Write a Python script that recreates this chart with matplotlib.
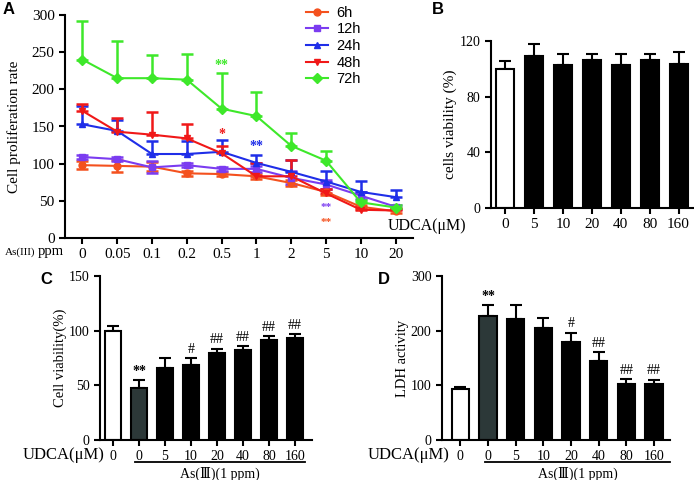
import numpy as np
import matplotlib
matplotlib.use("Agg")
from matplotlib import pyplot as plt
from matplotlib import transforms
from matplotlib.lines import Line2D

plt.rcParams['font.family'] = ['Liberation Serif', 'DejaVu Serif']
plt.rcParams['axes.linewidth'] = 1.5

# panel A
as_ppm = ['0', '0.05', '0.1', '0.2', '0.5', '1', '2', '5', '10', '20']
series_names = ['6h', '12h', '24h', '48h', '72h']
v6 = [98, 97, 96, 87, 86, 83, 74, 62, 42, 36]
v12 = [109, 106, 95, 98, 93, 93, 81, 72, 57, 42]
v24 = [153, 144, 113, 113, 116, 101, 89, 76, 62, 55]
v48 = [171, 143, 139, 134, 114, 83, 83, 60, 38, 37]
v72 = [240, 215, 215, 213, 174, 164, 124, 104, 48, 41]
e6 = [5, 8, 6, 3, 3, 3, 4, 4, 3, 3]
e12 = [3, 3, 8, 3, 3, 4, 9, 6, 5, 3]
e24 = [25, 15, 17, 17, 16, 11, 16, 14, 15, 9]
e48 = [9, 18, 30, 20, 10, 18, 22, 6, 4, 3]
e72 = [52, 50, 31, 35, 48, 33, 17, 13, 3, 3]

# panel B
udca_b = ['0', '5', '10', '20', '40', '80', '160']
viab_b = [100, 109, 103, 106, 103, 106, 103.5]
err_b = [5.5, 8.5, 7.5, 4.5, 7.5, 5, 8.5]

# panel C
udca_cd = ['0', '0', '5', '10', '20', '40', '80', '160']
viab_c = [100, 48, 66, 69, 80, 82, 91.5, 93.5]
err_c = [4, 6.5, 9, 6, 3.5, 4, 3.5, 3]
sig_c = ['', '**', '', '#', '##', '##', '##', '##']

# panel D
ldh_d = [93, 226, 222, 205, 180, 144, 102, 102]
err_d = [4.5, 21, 25, 19, 16, 17, 9, 8]
sig_d = ['', '**', '', '', '#', '##', '##', '##']

W, H = 694, 480
fig = plt.figure(figsize=(W / 100, H / 100), dpi=100)


def px(x, y):
    return x / W, 1 - y / H


def make_ax(l, t, r, b):
    x0, y1 = px(l, t)
    x1, y0 = px(r, b)
    ax = fig.add_axes([x0, y0, x1 - x0, y1 - y0])
    ax.spines['top'].set_visible(False)
    ax.spines['right'].set_visible(False)
    ax.tick_params(direction='out', length=4, width=1.5, labelsize=10)
    return ax


def letter(x, y, s):
    fig.text(*px(x, y), s, fontsize=12, fontweight='bold', family='Liberation Sans',
             va='center')


# ---- A ----
axA = make_ax(65, 15, 413, 238)
xa = np.arange(len(as_ppm))
colors = ['#f4511e', '#7b3cf0', '#1f2ee8', '#f01818', '#3ee82a']
markers = ['o', 's', '^', 'v', 'D']
vals = [v6, v12, v24, v48, v72]
errs = [e6, e12, e24, e48, e72]
handles = []
for i in range(5):
    e = np.array(errs[i])
    if i < 2:
        yerr = e
    else:
        yerr = [np.zeros_like(e), e]
    axA.errorbar(xa, vals[i], yerr=yerr, color=colors[i], marker=markers[i],
                 markersize=5, lw=1.5, elinewidth=1.8, capsize=4, capthick=1.8)
    handles.append(Line2D([], [], color=colors[i], marker=markers[i], markersize=5,
                          lw=1.5, label=series_names[i]))
axA.set_xlim(-0.5, 9.5)
axA.set_ylim(0, 300)
axA.set_yticks([0, 50, 100, 150, 200, 250, 300])
axA.set_xticks(xa)
axA.set_xticklabels(as_ppm)
axA.tick_params(labelsize=11)
axA.set_ylabel('Cell proliferation rate', fontsize=11, labelpad=8)
axA.text(4, 228, '**', color=colors[4], ha='center', fontsize=10, fontweight='bold')
axA.text(4, 135, '*', color=colors[3], ha='center', fontsize=10, fontweight='bold')
axA.text(5, 118, '**', color=colors[2], ha='center', fontsize=10, fontweight='bold')
axA.text(7, 41, '**', color=colors[1], ha='center', va='center', fontsize=8,
         fontweight='bold')
axA.text(7, 21, '**', color=colors[0], ha='center', va='center', fontsize=8,
         fontweight='bold')
axA.legend(handles=handles, loc='upper left', bbox_to_anchor=(0.655, 1.1), frameon=False,
           prop={'family': 'Liberation Sans', 'size': 10.5},
           handlelength=1.5, labelspacing=0.18, handletextpad=0.6)
fig.text(*px(5, 252), 'As(III)', fontsize=8, va='center')
fig.text(*px(38, 252), 'ppm', fontsize=10.5, va='center')
letter(3, 9, 'A')


def bars(ax, values, errors, dark):
    x = np.arange(len(values))
    fc = ['white'] + (['#2c3838'] if dark else [])
    fc += ['black'] * (len(values) - len(fc))
    ax.bar(x, values, width=0.62, color=fc, edgecolor='black', linewidth=1.5, zorder=2)
    ax.errorbar(x, values, yerr=[np.zeros(len(values)), errors], fmt='none',
                ecolor='black', elinewidth=1.5, capsize=4, capthick=1.5, zorder=1)
    return x


# ---- B ----
axB = make_ax(491, 41, 693, 208)
xb = bars(axB, viab_b, err_b, False)
axB.set_xlim(-0.5, 6.5)
axB.set_ylim(0, 120)
axB.set_yticks([0, 40, 80, 120])
axB.set_xticks(xb)
axB.set_xticklabels(udca_b, fontsize=11)
axB.set_ylabel('cells viability (%)', fontsize=11, labelpad=2)
fig.text(*px(388, 226), 'UDCA(μM)', fontsize=11.5, va='center')
letter(432, 9, 'B')


# ---- C and D ----
def lower_panel(ax, values, errors, sig, ylim, yticks, ylabel, udca_x, line_x):
    x = bars(ax, values, errors, True)
    ax.set_ylim(0, ylim)
    ax.set_yticks(yticks)
    ax.set_xticks(x)
    ax.set_xticklabels(udca_cd, fontsize=10)
    ax.tick_params(axis='y', labelsize=10)
    ax.set_ylabel(ylabel, fontsize=10.5, labelpad=1)
    for xi, v, e, s in zip(x, values, errors, sig):
        if s:
            ax.text(xi, v + e + ylim * 0.015, s, ha='center', va='bottom', fontsize=10,
                    fontweight='bold' if s == '**' else 'normal')
    tr = transforms.blended_transform_factory(ax.transData, ax.transAxes)
    ax.plot(line_x, [-0.135, -0.135], color='black', lw=1.3, transform=tr, clip_on=False)
    ax.text(np.mean(line_x), -0.165, 'As(Ⅲ)(1 ppm)', transform=tr, ha='center', va='top',
            fontsize=10)
    fig.text(*px(udca_x, 455), 'UDCA(μM)', fontsize=12, va='center')


axC = make_ax(100, 276, 312, 440)
axC.set_xlim(-0.5, 7.65)
lower_panel(axC, viab_c, err_c, sig_c, 150, [0, 50, 100, 150], 'Cell viability(%)',
            23, [0.85, 7.4])
letter(40, 279, 'C')

axD = make_ax(442, 276, 670, 440)
axD.set_xlim(-0.66, 7.58)
lower_panel(axD, ldh_d, err_d, sig_d, 300, [0, 100, 200, 300], 'LDH activity',
            368, [0.9, 7.58])
letter(378, 279, 'D')

fig.savefig('out.png', dpi=100)
